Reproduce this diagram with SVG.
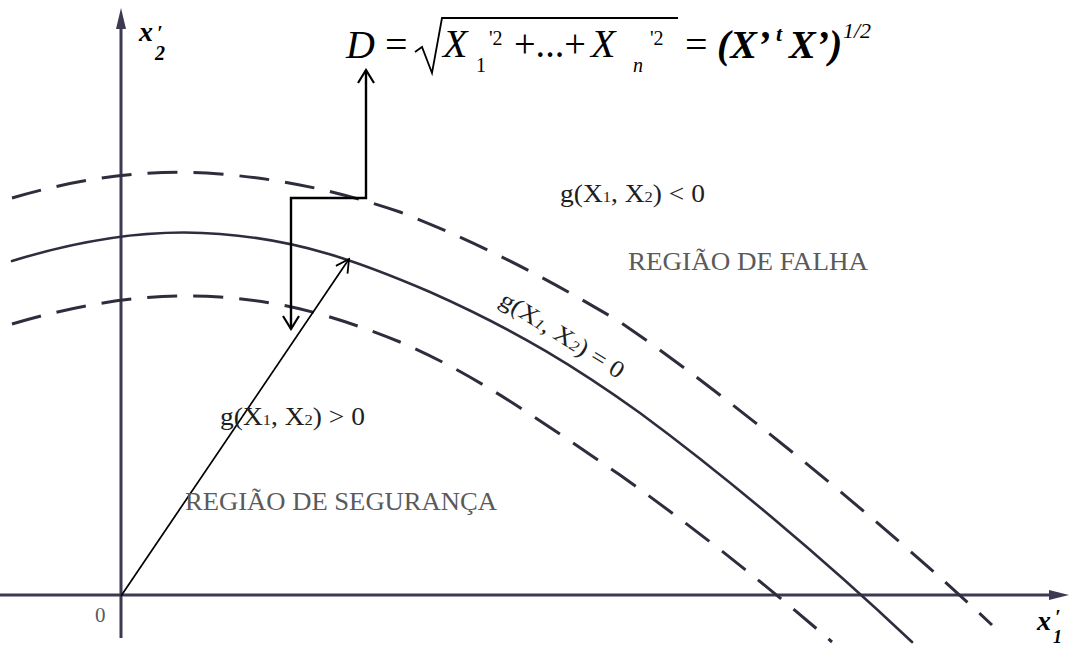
<svg xmlns="http://www.w3.org/2000/svg" width="1070" height="648" viewBox="0 0 1070 648">
  <style>
    .axis { stroke: #3c3a52; stroke-width: 3; fill: none; }
    .axhead { fill: #3c3a52; }
    .solid { stroke: #2e2d3d; stroke-width: 2.6; fill: none; stroke-linecap: round; }
    .dash { stroke: #2e2d3d; stroke-width: 3; fill: none; stroke-dasharray: 30 16; }
    .conn { stroke: #000; fill: none; stroke-linejoin: miter; }
    .f { font-family: "Liberation Serif", "Times New Roman", serif; fill: #000; }
    .it { font-style: italic; }
    .bi { font-style: italic; font-weight: bold; }
    .lbl { font-family: "Liberation Serif", "Times New Roman", serif; fill: #1e1e1e; }
    .gray { font-family: "Liberation Serif", "Times New Roman", serif; fill: #5a5a5a; }
  </style>
  <defs>
    <marker id="openHead" markerUnits="userSpaceOnUse" viewBox="-15 -10 17 20" refX="0" refY="0" markerWidth="17" markerHeight="20" orient="auto-start-reverse">
      <path d="M-13,-8 L0,0 L-13,8" stroke="#000" stroke-width="2.2" fill="none"/>
    </marker>
    <marker id="openHeadThin" markerUnits="userSpaceOnUse" viewBox="-15 -10 17 20" refX="0" refY="0" markerWidth="17" markerHeight="20" orient="auto">
      <path d="M-13,-7 L0,0 L-13,7" stroke="#000" stroke-width="1.8" fill="none"/>
    </marker>
  </defs>
  <rect width="1070" height="648" fill="#ffffff"/>

  <g id="axes">
    <line class="axis" x1="121" y1="638" x2="121" y2="24"/>
    <polygon class="axhead" points="121,8 116,29 126,29"/>
    <line class="axis" x1="0" y1="595" x2="1052" y2="595"/>
    <polygon class="axhead" points="1069,595 1049,590 1049,600"/>
    <text class="gray" x="95" y="622" font-size="21">0</text>
  </g>
  <g id="label-x2">
    <text class="f bi" x="139" y="41" font-size="28">x</text>
    <text class="f bi" x="157" y="40" font-size="20">′</text>
    <text class="f bi" x="155" y="60" font-size="20">2</text>
  </g>
  <g id="label-x1">
    <text class="f bi" x="1037" y="630" font-size="28">x</text>
    <text class="f bi" x="1055" y="624" font-size="20">′</text>
    <text class="f bi" x="1053" y="643" font-size="18">1</text>
  </g>

  <g id="curves">
    <path id="limit-state" class="solid" d="M 12,261 C 80,240 150,228 220,234 C 300,240 360,262 430,292 C 520,332 580,370 640,413 C 720,472 820,555 912,642"/>
    <path id="upper-dashed" class="dash" d="M 12,198 C 80,178 150,168 220,174 C 290,180 340,192 400,212 C 480,243 550,280 620,322 C 720,390 880,520 992,625"/>
    <path id="lower-dashed" class="dash" d="M 12,324 C 80,304 150,292 220,297 C 290,302 340,318 400,342 C 480,376 550,428 620,475 C 700,532 770,588 832,642"/>
  </g>

  <g id="connectors">
    <path class="conn" stroke-width="2.4" d="M 366,70 L 366,198 L 291,198 L 291,329" marker-start="url(#openHead)" marker-end="url(#openHead)"/>
    <line class="conn" stroke-width="1.7" x1="121" y1="596" x2="349" y2="259" marker-end="url(#openHeadThin)"/>
  </g>

  <g id="formula">
    <text class="f it" x="346" y="58" font-size="40">D</text>
    <text class="f" x="385" y="58" font-size="40">=</text>
    <path d="M 415,52 L 422,47 L 432,73 L 442,18 L 678,18" stroke="#000" stroke-width="1.8" fill="none"/>
    <text class="f it" x="443" y="57" font-size="40">X</text>
    <text class="f" x="476" y="72" font-size="20">1</text>
    <text class="f" x="489" y="45" font-size="20">'2</text>
    <text class="f" x="514" y="57" font-size="40" textLength="72" lengthAdjust="spacingAndGlyphs">+...+</text>
    <text class="f it" x="591" y="57" font-size="40">X</text>
    <text class="f it" x="633" y="72" font-size="20">n</text>
    <text class="f" x="650" y="45" font-size="20">'2</text>
    <text class="f" x="685" y="58" font-size="40">=</text>
    <text class="f bi" x="717" y="58" font-size="40">(X’</text>
    <text class="f bi" x="776" y="41" font-size="22">t</text>
    <text class="f bi" x="789" y="58" font-size="40">X’)</text>
    <text class="f it" x="843" y="38" font-size="22">1/2</text>
  </g>

  <g id="label-fail-ineq">
    <text class="lbl" x="560" y="202" font-size="25" textLength="145" lengthAdjust="spacingAndGlyphs">g(X<tspan font-size="15">1</tspan>, X<tspan font-size="15">2</tspan>) &lt; 0</text>
  </g>
  <g id="label-fail-region">
    <text class="gray" x="628" y="270" font-size="25" textLength="240" lengthAdjust="spacingAndGlyphs">REGIÃO DE FALHA</text>
  </g>
  <g id="label-limit">
    <text class="lbl" transform="translate(498,304) rotate(32)" font-size="24" textLength="142" lengthAdjust="spacingAndGlyphs">g(X<tspan font-size="15" class="it">1</tspan>, X<tspan font-size="15" class="it">2</tspan>) = 0</text>
  </g>
  <g id="label-safe-ineq">
    <text class="lbl" x="220" y="425" font-size="25" textLength="145" lengthAdjust="spacingAndGlyphs">g(X<tspan font-size="15">1</tspan>, X<tspan font-size="15">2</tspan>) &gt; 0</text>
  </g>
  <g id="label-safe-region">
    <text class="gray" x="185" y="510" font-size="25" textLength="312" lengthAdjust="spacingAndGlyphs">REGIÃO DE SEGURANÇA</text>
  </g>
</svg>
